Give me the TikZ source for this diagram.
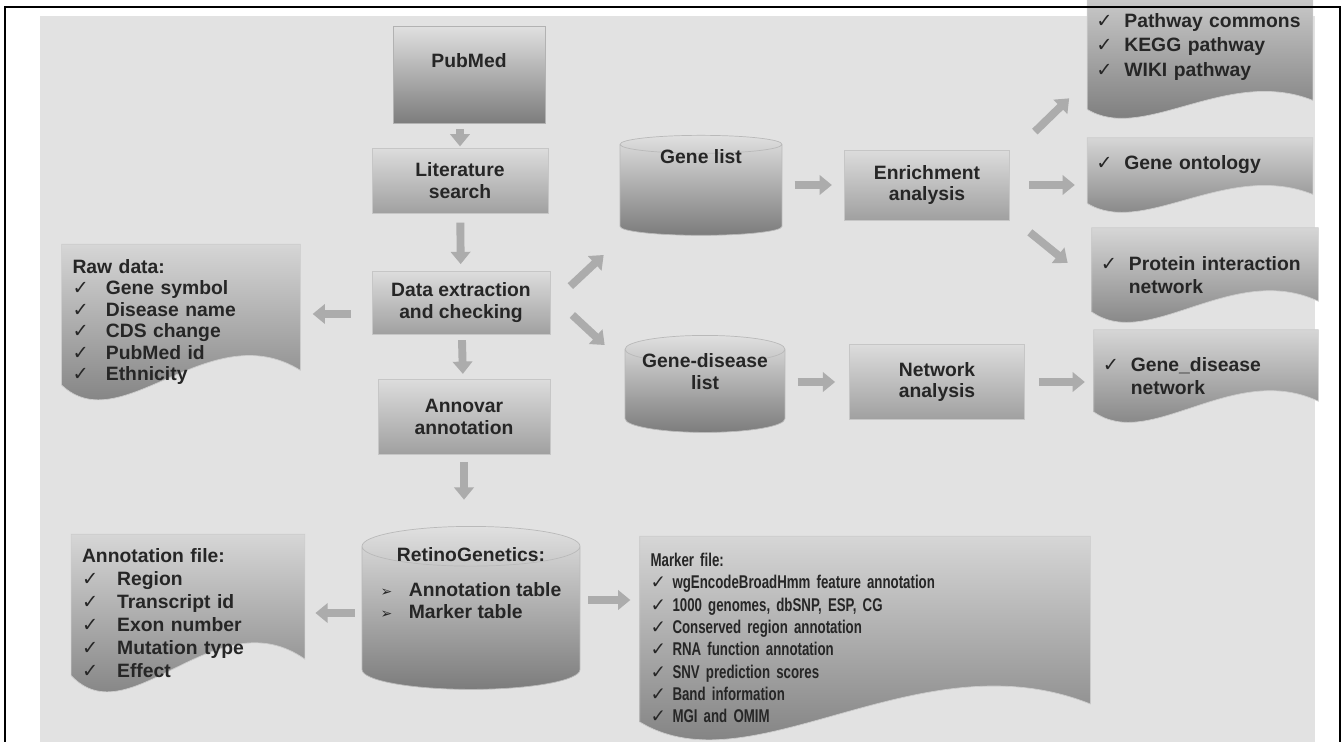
\documentclass[tikz,border=0pt]{standalone}
\usepackage{fontspec}
\setmainfont{Liberation Sans}
\newfontfamily\ckfont{DejaVu Sans}
\newfontfamily\narrowsf{Liberation Sans}[FakeStretch=0.72]
\usetikzlibrary{arrows.meta,calc,shapes.geometric,backgrounds}
\definecolor{page}{RGB}{226,226,226}
\definecolor{boxtop}{RGB}{220,220,220}
\definecolor{boxbot}{RGB}{160,160,160}
\definecolor{doctop}{RGB}{214,214,214}
\definecolor{docbot}{RGB}{112,112,112}
\definecolor{cyltop}{RGB}{224,224,224}
\definecolor{cylbot}{RGB}{124,124,124}
\definecolor{arr}{RGB}{172,172,172}
\definecolor{ink}{RGB}{38,38,38}

\newcommand\ckw{16pt}
\newcommand\ck{\makebox[\ckw][l]{\ckfont\mdseries\char"2713}}
\newcommand\tri{\makebox[16pt][l]{\ckfont\footnotesize\char"27A2}}
\newcommand\lift[2]{\raisebox{#1}[0pt][0pt]{#2}}
\newcommand\pad[2]{#2\rule[-#1]{0pt}{0pt}}
\newcommand\docshape[2]{%
  \path[docfill] (#1.north west) -- (#1.north east)
    -- ($(#1.south east)+(0pt,0.6*#2)$)
    .. controls ($(#1.south west)!0.62!(#1.south east)+(0pt,1.75*#2)$)
    and ($(#1.south west)!0.25!(#1.south east)+(0pt,-0.85*#2)$)
    .. ($(#1.south west)+(0pt,0.3*#2)$) -- cycle;}

\begin{document}
\begin{tikzpicture}[
        x={(0.02cm,0cm)},
        y={(0cm,-0.02cm)},
        proc/.style={rectangle, draw=gray!45, line width=0.4pt, top color=boxtop, bottom color=boxbot,
          text=ink, font=\fontsize{11}{12.5}\selectfont\bfseries, align=center, inner sep=2pt},
        store/.style={cylinder, shape border rotate=90, shape aspect=0.22, draw=gray!55, line width=0.4pt,
          top color=cyltop, bottom color=cylbot, text=ink, font=\fontsize{11}{12.5}\selectfont\bfseries, inner sep=0pt},
        drum/.style={cylinder, shape aspect=2, draw=gray!60, line width=0.5pt,
          top color=cyltop, bottom color=cylbot, text=ink, font=\fontsize{11}{12.5}\selectfont\bfseries, inner sep=0pt},
        doc/.style={rectangle, inner xsep=6pt, inner ysep=2pt, text=ink, align=left},
        docfill/.style={top color=doctop, bottom color=docbot, draw=gray!40, line width=0.4pt},
        blk/.style={-{Triangle[length=7pt,width=11pt]}, line width=4.5pt, arr},
        ]
        \useasboundingbox (0,0) rectangle (1344,742);
        \begin{pgfonlayer}{background}
          \fill[page] (40,16) rectangle (1315,742);
        \end{pgfonlayer}

        % main column
        \node(pubmed)[drum, minimum width=1.94cm, minimum height=3.04cm] at (469,75){\lift{4.5pt}{PubMed}};
        \node(litsearch)[proc, minimum width=3.52cm, minimum height=1.3cm] at (460,181){Literature\\search};
        \node(extract)[proc, minimum width=3.56cm, minimum height=1.26cm] at (461,303){Data extraction\\and checking};
        \node(annovar)[proc, minimum width=3.44cm, minimum height=1.5cm] at (464,417){Annovar\\annotation};
        \node(retino)[store, minimum width=4.36cm, minimum height=3.26cm] at (471,618){\lift{0pt}{%
          \begin{tabular}[b]{@{}l@{}}\multicolumn{1}{@{}c@{}}{RetinoGenetics:}\\[7pt]
          \tri Annotation table\\ \tri Marker table\end{tabular}}};

        % lists and analyses
        \node(genelist)[store, minimum width=3.24cm, minimum height=2cm] at (701,190){\lift{15pt}{Gene list}};
        \node(genedis)[store, minimum width=3.2cm, minimum height=1.94cm] at (705,391){\lift{1pt}{%
          \begin{tabular}[b]{@{}c@{}}Gene-disease\\list\end{tabular}}};
        \node(enrich)[proc, minimum width=3.3cm, minimum height=1.4cm] at (927,185){Enrichment\\analysis};
        \node(netana)[proc, minimum width=3.5cm, minimum height=1.5cm] at (937,382){Network\\analysis};

        % files
        \node(rawdata)[doc, text width=4.34cm, minimum height=3.1cm, font=\fontsize{11}{12.2}\selectfont\bfseries,
          execute at begin node={\def\ckw{19pt}}] at (181,322)
          {Raw data:\\\ck Gene symbol\\\ck Disease name\\\ck CDS change\\\ck PubMed id\\\ck Ethnicity};
        \node(annofile)[doc, text width=4.24cm, minimum height=3.14cm, font=\fontsize{11}{13}\selectfont\bfseries,
          execute at begin node={\def\ckw{20pt}}] at (188,613)
          {Annotation file:\\\ck Region\\\ck Transcript id\\\ck Exon number\\\ck Mutation type\\\ck Effect};
        \node(marker)[doc, text width=8.58cm, minimum height=4.06cm, font=\fontsize{10.5}{12.7}\narrowsf\bfseries,
          execute at begin node={\def\ckw{12.5pt}}] at (865,638)
          {Marker file:\\\ck wgEncodeBroadHmm feature annotation\\\ck 1000 genomes, dbSNP, ESP, CG\\
           \ck Conserved region annotation\\\ck RNA function annotation\\\ck SNV prediction scores\\
           \ck Band information\\\ck MGI and OMIM};
        \node(pathway)[doc, inner xsep=5pt, text width=4.15cm, minimum height=2.84cm, font=\fontsize{11}{13.7}\selectfont\bfseries] at (1200,47)
          {\ck Pathway commons\\\ck KEGG pathway\\\ck WIKI pathway};
        \node(geneonto)[doc, inner xsep=5pt, text width=4.15cm, minimum height=1.48cm, font=\fontsize{11}{13.7}\selectfont\bfseries] at (1200,175)
          {\pad{14pt}{\ck Gene ontology}};
        \node(protein)[doc, inner xsep=5pt, text width=4.17cm, minimum height=1.88cm, font=\fontsize{11}{13}\selectfont\bfseries] at (1205,275)
          {\ck Protein interaction\\\hspace*{\ckw}network};
        \node(gdnet)[doc, inner xsep=5pt, text width=4.13cm, minimum height=1.84cm, font=\fontsize{11}{13}\selectfont\bfseries] at (1206,376)
          {\ck Gene\_disease\\\hspace*{\ckw}network};

        \begin{pgfonlayer}{background}
          \docshape{rawdata}{28pt}
          \docshape{annofile}{31pt}
          \docshape{marker}{34pt}
          \docshape{pathway}{17pt}
          \docshape{geneonto}{17pt}
          \docshape{protein}{20pt}
          \docshape{gdnet}{20pt}
        \end{pgfonlayer}

        % arrows
        \draw[blk, shorten <=3pt, shorten >=1pt] (litsearch.north |- pubmed.south) -- (litsearch.north);
        \draw[blk, shorten <=5pt, shorten >=4pt] (litsearch) -- (extract);
        \draw[blk, shorten <=3pt, shorten >=3pt] (extract) -- (annovar);
        \draw[blk, shorten <=4pt, shorten >=15pt] (annovar.south) -- (annovar.south |- retino.north);
        \draw[blk, shorten <=12pt, shorten >=7pt] (extract.187) -- (extract.187 -| rawdata.east);
        \draw[blk] ($(extract.north east)+(20,15)$) -- ($(genelist.west)+(-16,65)$);
        \draw[blk] ($(extract.east)+(22,12)$) -- ($(genedis.west)+(-20,-46)$);
        \draw[blk, shorten <=7pt, shorten >=7pt] (enrich.west -| genelist.east) -- (enrich.west);
        \draw[blk] ($(enrich.north east)+(25,-18)$) -- ($(pathway.south west)+(-18,-20)$);
        \draw[blk, shorten <=11pt, shorten >=7pt] (enrich.east) -- (enrich.east -| geneonto.west);
        \draw[blk] ($(enrich.south east)+(20,12)$) -- ($(protein.west)+(-24,-12)$);
        \draw[blk, shorten <=7pt, shorten >=8pt] (netana.west -| genedis.east) -- (netana.west);
        \draw[blk, shorten <=8pt, shorten >=5pt] (netana.east) -- (netana.east -| gdnet.west);
        \draw[blk, shorten <=4pt, shorten >=6pt] (annofile.east -| retino.west) -- (annofile.east);
        \draw[blk] ($(retino.east)+(8,-18)$) -- ($(retino.east)+(50,-18)$);

        \draw[line width=1pt] (5,742) -- (5,7) -- (1340,7) -- (1340,742);
      \end{tikzpicture}
\end{document}
